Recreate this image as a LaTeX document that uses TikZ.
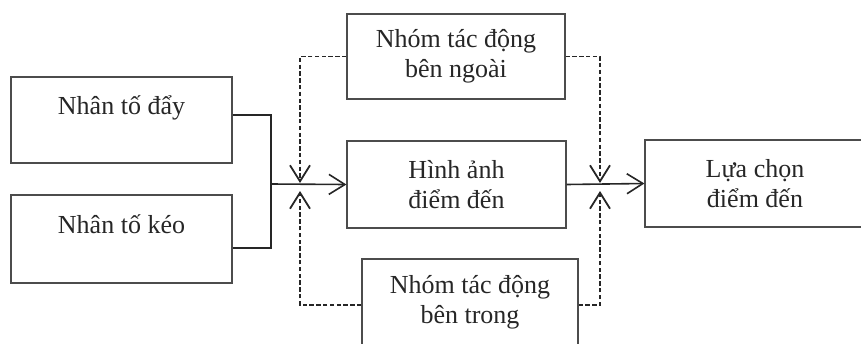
\documentclass[tikz,border=0pt]{standalone}
\usepackage{fontspec}
\setmainfont{Liberation Serif}
\usetikzlibrary{arrows.meta}
\begin{document}
\begin{tikzpicture}[x=0.5pt,y=-0.5pt,
  box/.style={draw=black!70,line width=0.6pt,align=center,inner sep=0pt,
    font=\fontsize{13}{15}\selectfont,text=black!85},
  line/.style={draw=black!85,line width=0.8pt},
  link/.style={line,-{Straight Barb[length=8pt,width=10pt]}},
  dashlink/.style={link,line width=0.9pt,dash pattern=on 2.2pt off 1.2pt}]
\useasboundingbox (0,0) rectangle (861,343);
\node[box,minimum width=110.5pt,minimum height=43pt] (day) at (121.5,120) {Nhân tố đẩy\\\mbox{}};
\node[box,minimum width=110.5pt,minimum height=44pt] (keo) at (121.5,239) {Nhân tố kéo\\\mbox{}};
\node[box,minimum width=109pt,minimum height=42.5pt] (ngoai) at (456,56.5) {Nhóm tác động\\bên ngoài};
\node[box,minimum width=109.5pt,minimum height=43.5pt] (hinhanh) at (456.5,184.5) {Hình ảnh\\điểm đến};
\node[box,minimum width=108pt,minimum height=43pt] (trong) at (470,302) {Nhóm tác động\\bên trong};
\node[box,minimum width=110pt,minimum height=43.5pt] (luachon) at (755,183.5) {Lựa chọn\\điểm đến};

% left join
\coordinate (join1) at (271,184);
\coordinate (in1) at (300,183);
\coordinate (in2) at (300,191);
\draw[line] ([yshift=2.5pt]day.east) -| (271,248) -- ([yshift=-4.5pt]keo.east);
\draw[link] (join1) -- (hinhanh.west);
\draw[dashlink] (ngoai.west) -| (in1);
\draw[dashlink] ([yshift=-1.5pt]trong.west) -| (in2);

% right join
\coordinate (out1) at (600,183);
\coordinate (out2) at (600,191);
\draw[link] (hinhanh.east) -- (luachon.west);
\draw[dashlink] (ngoai.east) -| (out1);
\draw[dashlink] ([yshift=-1.5pt]trong.east) -| (out2);

\end{tikzpicture}
\end{document}
